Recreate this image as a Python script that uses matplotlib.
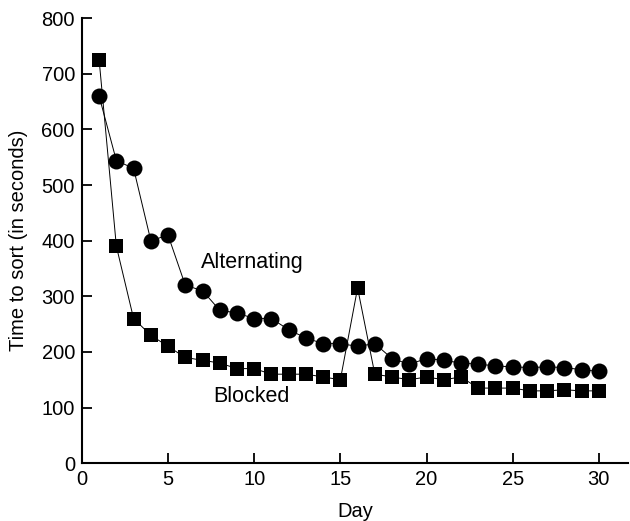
import numpy as np
import matplotlib.pyplot as plt

plt.rcParams['font.family'] = ['Liberation Sans', 'DejaVu Sans']

days = np.arange(1, 31)
alternating = [660, 544, 530, 400, 410, 320, 310, 275, 270, 260,
               260, 240, 225, 215, 215, 210, 215, 188, 178, 188,
               185, 180, 178, 175, 173, 172, 173, 172, 168, 165]
blocked = [725, 390, 260, 230, 210, 190, 185, 180, 170, 170,
           160, 160, 160, 155, 150, 315, 160, 155, 150, 155,
           150, 155, 135, 135, 135, 130, 130, 132, 130, 130]

fig = plt.figure(figsize=(6.3, 5.21), dpi=100)
ax = fig.add_axes([0.130, 0.111, 0.867, 0.854])

ax.plot(days, alternating, color="black", lw=0.7, marker="o", ms=11.5,
        markeredgewidth=0)
ax.plot(days, blocked, color="black", lw=0.7, marker="s", ms=10,
        markeredgewidth=0)

ax.text(6.9, 360, "Alternating", fontsize=15.5, ha="left", va="center")
ax.text(7.6, 120, "Blocked", fontsize=15.5, ha="left", va="center")

ax.set_xlim(0, 31.7)
ax.set_ylim(0, 800)
ax.set_xticks([0, 5, 10, 15, 20, 25, 30])
ax.set_yticks(range(0, 801, 100))
ax.spines["top"].set_visible(False)
ax.spines["right"].set_visible(False)
ax.spines["left"].set_linewidth(1.5)
ax.spines["bottom"].set_linewidth(1.5)
ax.tick_params(direction="in", length=7, width=1.3, labelsize=14.5, pad=5)
ax.set_xlabel("Day", fontsize=14.5, labelpad=9)
ax.set_ylabel("Time to sort (in seconds)", fontsize=14.5, labelpad=10)

fig.savefig("out.png", dpi=100)
